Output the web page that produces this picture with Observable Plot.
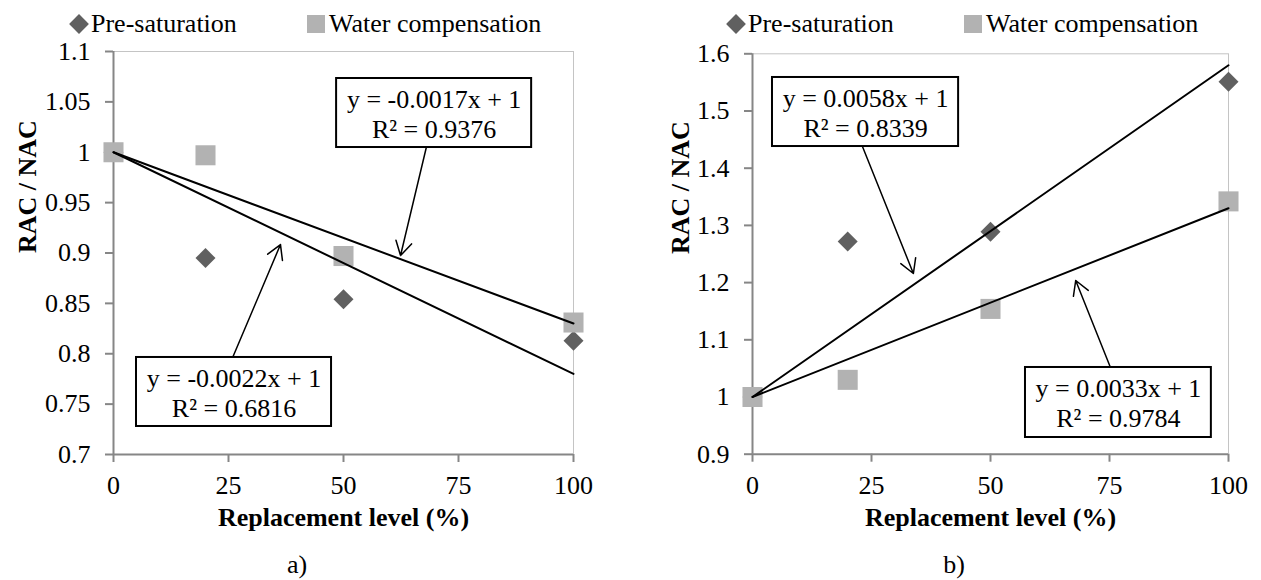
<!DOCTYPE html>
<html>
<head>
<meta charset="utf-8">
<script src="https://cdn.jsdelivr.net/npm/d3@7"></script>
<script src="https://cdn.jsdelivr.net/npm/@observablehq/plot@0.6"></script>
<style>
  body { margin: 0; background: #fff; font-family: "Liberation Serif", "DejaVu Serif", serif; }
  #page { position: relative; width: 1261px; height: 580px; overflow: hidden; background: #fff; }
  .panel { position: absolute; top: 0; height: 580px; }
  .panel svg { position: absolute; top: 20px; left: 0; }
  .leg-text { position: absolute; top: 9px; font-size: 26px; line-height: normal; white-space: nowrap; color: #000; }
  .leg-diamond { position: absolute; left: 72px; top: 17px; width: 14px; height: 14px; background: #606060; transform: rotate(45deg); }
  .leg-square { position: absolute; left: 307px; top: 15px; width: 18px; height: 18px; background: #b2b2b2; }
  .caption { position: absolute; top: 550px; left: 247px; width: 100px; text-align: center; font-size: 26px; line-height: normal; color: #000; }
</style>
</head>
<body>
<div id="page">
  <div class="panel" id="panelA" style="left:0;width:657px">
    <span class="leg-diamond"></span><span class="leg-text" style="left:91px">Pre-saturation</span>
    <span class="leg-square"></span><span class="leg-text" style="left:329px">Water compensation</span>
    <div class="caption">a)</div>
  </div>
  <div class="panel" id="panelB" style="left:657px;width:604px">
    <span class="leg-diamond"></span><span class="leg-text" style="left:91px">Pre-saturation</span>
    <span class="leg-square"></span><span class="leg-text" style="left:329px">Water compensation</span>
    <div class="caption">b)</div>
  </div>
</div>
<script>
// Replacement levels (%) shared by both panels
const levels = [0, 20, 50, 100];
const xTicks = [0, 25, 50, 75, 100];

// Panel a) values
const preSatA = [1, 0.895, 0.854, 0.813];
const waterA = [1, 0.997, 0.897, 0.831];
const yTicksA = [0.7, 0.75, 0.8, 0.85, 0.9, 0.95, 1, 1.05, 1.1];
// linear fits (intercept fixed at 1): [water compensation, pre-saturation]
const slopesA = [-0.0017, -0.0022];
const r2A = [0.9376, 0.6816];

// Panel b) values
const preSatB = [1, 1.272, 1.289, 1.551];
const waterB = [1, 1.030, 1.154, 1.342];
const yTicksB = [0.9, 1, 1.1, 1.2, 1.3, 1.4, 1.5, 1.6];
// linear fits: [pre-saturation, water compensation]
const slopesB = [0.0058, 0.0033];
const r2B = [0.8339, 0.9784];
const intercept = 1;

const FONT = "'Liberation Serif', 'DejaVu Serif', serif";
const FS = 26;
const AXIS = "#868686";
const FRAME = "#c4c4c4";

function eqLabel(m, r2) {
  return `y = ${m}x + ${intercept}\nR² = ${r2}`;
}

function panel(cfg) {
  const {pre, water, slopes, r2s, yTicks, boxes, arrows} = cfg;
  const yDomain = [yTicks[0], yTicks[yTicks.length - 1]];
  const fit = slopes.flatMap((m, k) => [0, 100].map(x => ({x, y: intercept + m * x, k})));
  const notes = boxes.map((b, i) => ({...b, label: eqLabel(slopes[i], r2s[i])}));
  return Plot.plot({
    width: cfg.width,
    height: 520,
    marginLeft: cfg.marginLeft,
    marginRight: cfg.marginRight,
    marginTop: cfg.marginTop,
    marginBottom: cfg.marginBottom,
    style: {fontFamily: FONT, fontSize: `${FS}px`, color: "#000", background: "transparent", overflow: "visible"},
    x: {domain: [0, 100]},
    y: {domain: yDomain},
    marks: [
      // light plot-area border on top and right
      Plot.ruleY([yDomain[1]], {stroke: FRAME, strokeWidth: 1}),
      Plot.ruleX([100], {stroke: FRAME, strokeWidth: 1}),
      Plot.axisX({ticks: xTicks, tickSize: 8, tickPadding: 13, stroke: AXIS, strokeWidth: 2,
                  tickFormat: d => String(d), label: null, fontSize: FS}),
      Plot.axisY({ticks: yTicks, tickSize: 8, tickPadding: 15, stroke: AXIS, strokeWidth: 2,
                  tickFormat: d => String(d), label: null, fontSize: FS}),
      Plot.ruleX([0], {stroke: AXIS, strokeWidth: 2}),
      Plot.ruleY([yDomain[0]], {stroke: AXIS, strokeWidth: 2}),
      // measured ratios
      Plot.dot(levels, {x: d => d, y: (d, i) => pre[i], symbol: "diamond2", r: 9, fill: "#606060"}),
      Plot.dot(levels, {x: d => d, y: (d, i) => water[i], symbol: "square", r: 11.3, fill: "#b2b2b2"}),
      // linear trend lines
      Plot.line(fit, {x: "x", y: "y", z: "k", stroke: "#000", strokeWidth: 2}),
      // equation call-outs
      Plot.arrow(arrows, {x1: "x1", y1: "y1", x2: "x2", y2: "y2", stroke: "#000", strokeWidth: 1.5,
                          headLength: 16, headAngle: 60}),
      Plot.rect(notes, {x1: "x1", x2: "x2", y1: "y1", y2: "y2", fill: "#fff", stroke: "#000", strokeWidth: 2}),
      Plot.text(notes, {x: d => (d.x1 + d.x2) / 2, y: d => (d.y1 + d.y2) / 2, text: "label",
                        fontSize: FS, lineHeight: 1.15, lineAnchor: "middle", fill: "#000"}),
      // axis titles
      Plot.text(["RAC / NAC"], {frameAnchor: "left", dx: cfg.yTitleDx, rotate: -90, text: d => d,
                                fontWeight: "bold", fontSize: FS, lineAnchor: "middle", fill: "#000"}),
      Plot.text(["Replacement level (%)"], {frameAnchor: "bottom", dy: 63, text: d => d,
                                fontWeight: "bold", fontSize: FS, lineAnchor: "middle", fill: "#000"})
    ]
  });
}

const chartA = panel({
  pre: preSatA, water: waterA, slopes: slopesA, r2s: r2A, yTicks: yTicksA,
  width: 657, marginLeft: 113, marginRight: 84, marginTop: 31, marginBottom: 86, yTitleDx: -86,
  boxes: [
    {x1: 48.5, x2: 90.9, y1: 1.0732, y2: 1.0047},
    {x1: 5.0, x2: 47.4, y1: 0.7963, y2: 0.7278}
  ],
  arrows: [
    {x1: 68.0, y1: 1.0047, x2: 62.4, y2: 0.8975},
    {x1: 25.9, y1: 0.7963, x2: 36.3, y2: 0.9084}
  ]
});

const chartB = panel({
  pre: preSatB, water: waterB, slopes: slopesB, r2s: r2B, yTicks: yTicksB,
  width: 604, marginLeft: 95, marginRight: 33, marginTop: 33.3, marginBottom: 86.3, yTitleDx: -72,
  boxes: [
    {x1: 4.2, x2: 43.3, y1: 1.5586, y2: 1.4379},
    {x1: 57.35, x2: 96.4, y1: 1.0516, y2: 0.9292}
  ],
  arrows: [
    {x1: 23.1, y1: 1.4379, x2: 33.8, y2: 1.2159},
    {x1: 75.2, y1: 1.0516, x2: 67.9, y2: 1.2037}
  ]
});

document.getElementById("panelA").appendChild(chartA);
document.getElementById("panelB").appendChild(chartB);
</script>
</body>
</html>
